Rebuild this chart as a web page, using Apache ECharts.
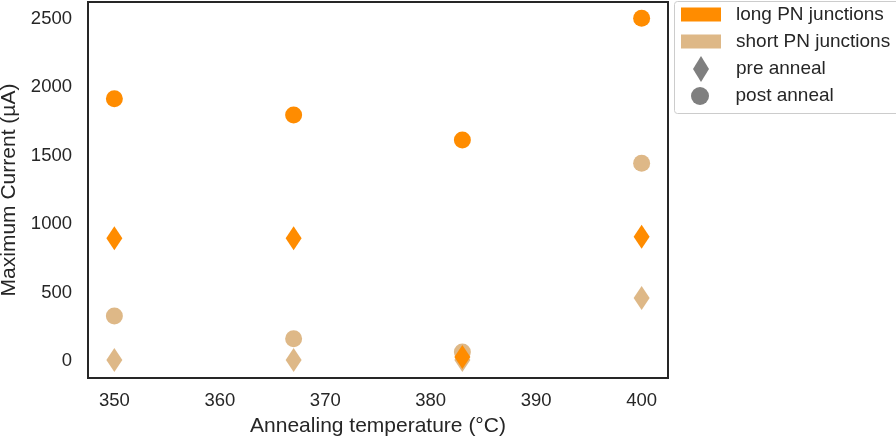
<!DOCTYPE html>
<html>
<head>
<meta charset="utf-8">
<script src="https://cdn.jsdelivr.net/npm/echarts@6/dist/echarts.min.js"></script>
<style>html,body{margin:0;padding:0;background:#fff;}#chart{width:896px;height:440px;}</style>
</head>
<body>
<div id="chart"></div>
<script>
const temperatures = [350, 367, 383, 400];
const longPost = [1917, 1798, 1615, 2505];
const longPre = [897, 897, 30, 909];
const shortPost = [329, 163, 66, 1445];
const shortPre = [7, 7, 7, 460];
const xTicks = [350, 360, 370, 380, 390, 400];
const yTicks = [0, 500, 1000, 1500, 2000, 2500];

const ORANGE = '#FF8C00';
const TAN = '#DEB887';
const GRAY = '#7f7f7f';
const FONT = 'Liberation Sans';
const TEXT = '#262626';

function pts(vals) { return temperatures.map((t, i) => [t, vals[i]]); }

const chart = echarts.init(document.getElementById('chart'), null, { renderer: 'canvas' });
chart.setOption({
  animation: false,
  grid: { left: 88, right: 228, top: 2, bottom: 62, show: true, borderColor: '#262626', borderWidth: 2, backgroundColor: 'transparent', outerBoundsMode: 'none', containLabel: false },
  xAxis: {
    type: 'value', min: 347.5, max: 402.5,
    name: 'Annealing temperature (°C)', nameLocation: 'middle', nameGap: 38,
    nameTextStyle: { fontFamily: FONT, fontSize: 21, color: TEXT },
    axisLine: { show: false }, axisTick: { show: false }, splitLine: { show: false },
    axisLabel: { customValues: xTicks, formatter: v => String(v), fontFamily: FONT, fontSize: 18.5, color: TEXT, margin: 13 }
  },
  yAxis: {
    type: 'value', min: -124, max: 2624,
    name: 'Maximum Current (µA)', nameLocation: 'middle', nameGap: 66,
    nameTextStyle: { fontFamily: FONT, fontSize: 21, color: TEXT },
    axisLine: { show: false }, axisTick: { show: false }, splitLine: { show: false },
    axisLabel: { customValues: yTicks, formatter: v => String(v), fontFamily: FONT, fontSize: 18.5, color: TEXT, margin: 16 }
  },
  legend: [
    {
      data: [{ name: 'long PN junctions', icon: 'rect' }, { name: 'short PN junctions', icon: 'rect' }],
      orient: 'vertical', left: 681, top: 4, itemWidth: 40, itemHeight: 14, itemGap: 6,
      textStyle: { fontFamily: FONT, fontSize: 19, color: TEXT, lineHeight: 21, padding: [0, 0, 0, 10] },
      selectedMode: false, padding: 0
    },
    {
      data: [{ name: 'pre anneal', icon: 'diamond' }],
      orient: 'vertical', left: 693, top: 56, itemWidth: 16, itemHeight: 26,
      textStyle: { fontFamily: FONT, fontSize: 19, color: TEXT, padding: [0, 0, 0, 22] },
      selectedMode: false, padding: 0
    },
    {
      data: [{ name: 'post anneal', icon: 'circle' }],
      orient: 'vertical', left: 691, top: 86.5, itemWidth: 19, itemHeight: 18,
      textStyle: { fontFamily: FONT, fontSize: 19, color: TEXT, padding: [0, 0, 0, 21] },
      selectedMode: false, padding: 0
    }
  ],
  graphic: [{
    type: 'rect', left: 674, top: 1, shape: { width: 230, height: 112, r: 3 },
    style: { fill: 'transparent', stroke: '#cccccc', lineWidth: 1 }, z: 0
  }],
  series: [
    { name: 'short post', type: 'scatter', data: pts(shortPost), symbol: 'circle', symbolSize: 17, itemStyle: { color: TAN, opacity: 1 }, z: 2 },
    { name: 'short pre', type: 'scatter', data: pts(shortPre), symbol: 'diamond', symbolSize: [16, 24], itemStyle: { color: TAN, opacity: 1 }, z: 2 },
    { name: 'long post', type: 'scatter', data: pts(longPost), symbol: 'circle', symbolSize: 17, itemStyle: { color: ORANGE, opacity: 1 }, z: 3 },
    { name: 'long pre', type: 'scatter', data: pts(longPre), symbol: 'diamond', symbolSize: [16, 24], itemStyle: { color: ORANGE, opacity: 1 }, z: 3 },
    { name: 'long PN junctions', type: 'scatter', data: [], itemStyle: { color: ORANGE, opacity: 1 } },
    { name: 'short PN junctions', type: 'scatter', data: [], itemStyle: { color: TAN, opacity: 1 } },
    { name: 'pre anneal', type: 'scatter', data: [], itemStyle: { color: GRAY, opacity: 1 } },
    { name: 'post anneal', type: 'scatter', data: [], itemStyle: { color: GRAY, opacity: 1 } }
  ]
});
</script>
</body>
</html>
